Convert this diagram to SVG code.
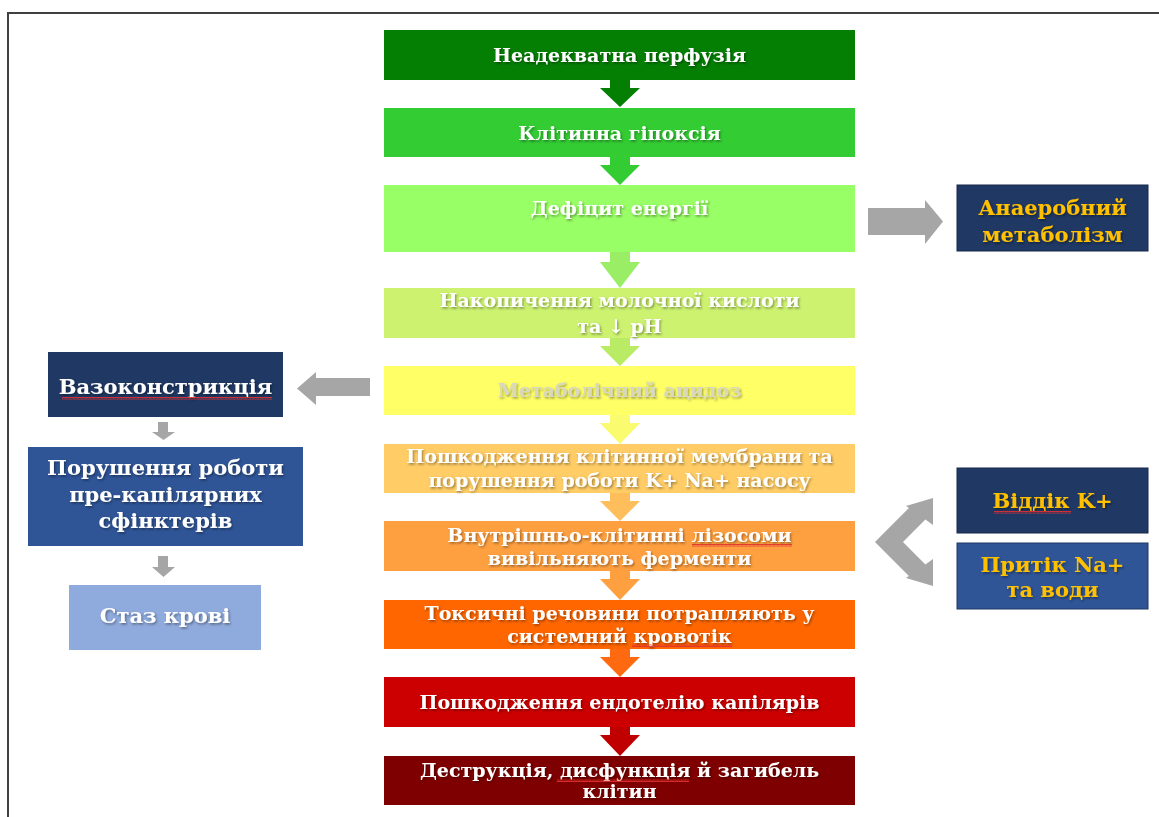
<svg xmlns="http://www.w3.org/2000/svg" width="1159" height="817" viewBox="0 0 1159 817">
<defs>
<filter id="sh" x="-10%" y="-30%" width="120%" height="160%">
<feDropShadow dx="1.2" dy="1.5" stdDeviation="1" flood-color="#000" flood-opacity="0.4"/>
</filter>
<pattern id="wavy" width="4" height="3" patternUnits="userSpaceOnUse">
<path d="M0,2.5 L1,0.5 L2,2.5 L3,0.5 L4,2.5" fill="none" stroke="#e03030" stroke-width="0.9"/>
</pattern>
</defs>
<style>
.t{font-family:"DejaVu Serif","Liberation Serif",serif;font-weight:bold;font-size:19px;text-anchor:middle;fill:#ffffff;filter:url(#sh)}
.s{font-family:"DejaVu Serif","Liberation Serif",serif;font-weight:bold;font-size:21px;text-anchor:middle;filter:url(#sh)}
.w{fill:#ffffff}
.y{fill:#ffc000}
.gray{fill:#a6a6a6}
.frame{stroke:#404040;stroke-width:2;fill:none}
.wv{fill:url(#wavy)}
</style>
<rect width="1159" height="817" fill="#ffffff"/>
<path class="frame" d="M8,817 V13 H1159"/>

<g id="connectors">
<path d="M610,80 H630 V88 H640 L620,107 L600,88 H610 Z" fill="#047f04"/>
<path d="M610,157 H630 V165 H640 L620,185 L600,165 H610 Z" fill="#33cc33"/>
<path d="M610,252 H630 V262 H640 L620,288 L600,262 H610 Z" fill="#99ee66"/>
<path d="M610,338 H630 V346 H640 L620,366 L600,346 H610 Z" fill="#b9ec64"/>
<path d="M610,415 H630 V423 H640 L620,444 L600,423 H610 Z" fill="#fbfb70"/>
<path d="M610,493 H630 V501 H640 L620,521 L600,501 H610 Z" fill="#ffbe5c"/>
<path d="M610,571 H630 V579 H640 L620,600 L600,579 H610 Z" fill="#ffa040"/>
<path d="M610,649 H630 V657 H640 L620,677 L600,657 H610 Z" fill="#ff6a10"/>
<path d="M610,727 H630 V735 H640 L620,756 L600,735 H610 Z" fill="#c00000"/>
<path class="gray" d="M370,378 H316 V372 L297,388.5 L316,405 V396 H370 Z"/>
<path class="gray" d="M868,208 H925 V200 L943,221.5 L925,244 V235 H868 Z"/>
<path class="gray" d="M158,422 H168 V432 H175 L163.5,440 L152,432 H158 Z"/>
<path class="gray" d="M158,556 H168 V567 H175 L163.5,577 L152,567 H158 Z"/>
<path class="gray" d="M906,506 L933,498 L933,525 L925.4,519.6 L903,542 L925.4,564.4 L933,559 L933,586 L906,578 L908.9,575.9 L875,542 L908.9,508.1 Z"/>
</g>

<g id="n1"><rect x="384" y="30" width="471" height="50" fill="#047f04"/>
<text class="t" x="619.5" y="62">Неадекватна перфузія</text></g>
<g id="n2"><rect x="384" y="108" width="471" height="49" fill="#33cc33"/>
<text class="t" x="619.5" y="140">Клітинна гіпоксія</text></g>
<g id="n3"><rect x="384" y="185" width="471" height="67" fill="#99ff66"/>
<text class="t" x="619.5" y="215">Дефіцит енергії</text></g>
<g id="n4"><rect x="384" y="288" width="471" height="50" fill="#ccf270"/>
<text class="t" x="619.5" y="307">Накопичення молочної кислоти</text>
<text class="t" x="619.5" y="333">та ↓ pH</text></g>
<g id="n5"><rect x="384" y="366" width="471" height="49" fill="#ffff66"/>
<text class="t" x="619.5" y="397" style="fill:#d8d8c0">Метаболічний ацидоз</text></g>
<g id="n6"><rect x="384" y="444" width="471" height="49" fill="#ffcc66"/>
<text class="t" x="619.5" y="463">Пошкодження клітинної мембрани та</text>
<text class="t" x="619.5" y="487">порушення роботи K+ Na+ насосу</text></g>
<g id="n7"><rect x="384" y="521" width="471" height="50" fill="#ffa040"/>
<text class="t" x="619.5" y="542">Внутрішньо-клітинні лізосоми</text>
<text class="t" x="619.5" y="565">вивільняють ферменти</text>
<rect class="wv" x="692" y="544" width="100" height="3"/></g>
<g id="n8"><rect x="384" y="600" width="471" height="49" fill="#ff6600"/>
<text class="t" x="619.5" y="620">Токсичні речовини потрапляють у</text>
<text class="t" x="619.5" y="643">системний кровотік</text>
<rect class="wv" x="632" y="644" width="100" height="3"/></g>
<g id="n9"><rect x="384" y="677" width="471" height="50" fill="#cc0000"/>
<text class="t" x="619.5" y="709">Пошкодження ендотелію капілярів</text></g>
<g id="n10"><rect x="384" y="756" width="471" height="49" fill="#7f0000"/>
<text class="t" x="619.5" y="777">Деструкція, дисфункція й загибель</text>
<text class="t" x="619.5" y="798">клітин</text>
<rect class="wv" x="557" y="779" width="132" height="3"/></g>

<g id="vaso"><rect x="48" y="352" width="235" height="65" fill="#1f3864"/>
<text class="s w" x="165.5" y="394">Вазоконстрикція</text>
<rect class="wv" x="62" y="397" width="210" height="3"/></g>
<g id="sphincter"><rect x="28" y="447" width="275" height="99" fill="#2f5597"/>
<text class="s w" x="165.5" y="475">Порушення роботи</text>
<text class="s w" x="165.5" y="502">пре-капілярних</text>
<text class="s w" x="165.5" y="528">сфінктерів</text></g>
<g id="stasis"><rect x="69" y="585" width="192" height="65" fill="#8faadc"/>
<text class="s w" x="165" y="623">Стаз крові</text></g>

<g id="anaerobic"><rect x="957" y="185" width="191" height="66" fill="#1f3864" stroke="#16284a"/>
<text class="s y" x="1052.5" y="215">Анаеробний</text>
<text class="s y" x="1052.5" y="242">метаболізм</text></g>
<g id="k"><rect x="957" y="468" width="191" height="65" fill="#1f3864" stroke="#16284a"/>
<text class="s y" x="1052.5" y="508">Віддік K+</text>
<rect class="wv" x="994" y="511" width="77" height="3"/></g>
<g id="na"><rect x="957" y="543" width="191" height="66" fill="#2f5597" stroke="#1f3864"/>
<text class="s y" x="1052.5" y="572">Притік Na+</text>
<text class="s y" x="1052.5" y="597">та води</text></g>
</svg>
